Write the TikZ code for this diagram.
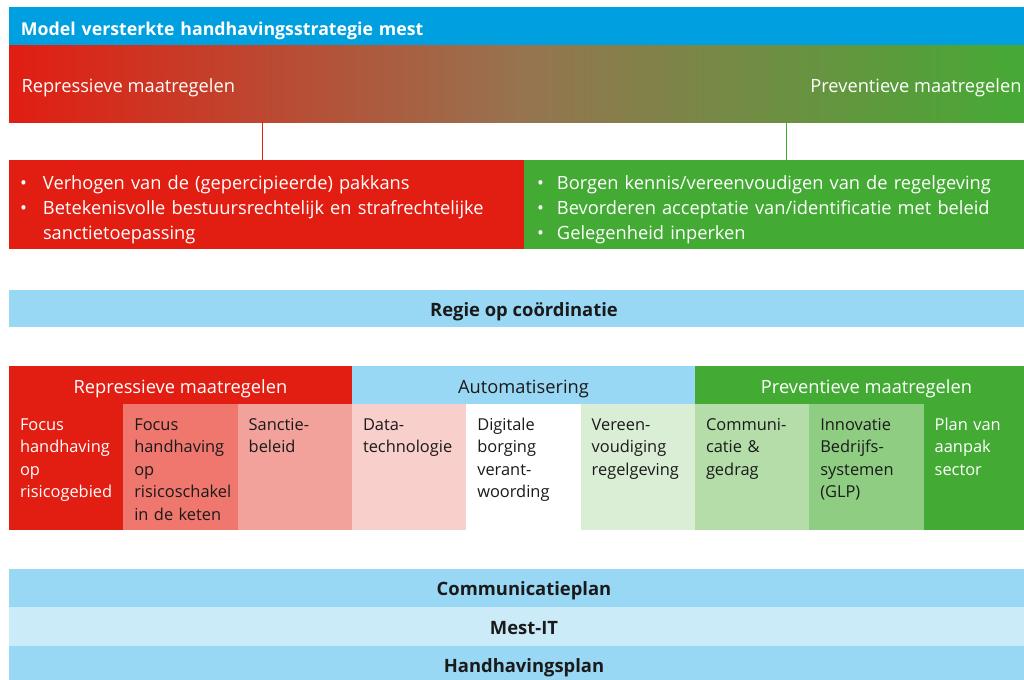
\documentclass[tikz,border=0pt]{standalone}
\usepackage{fontspec}
\setmainfont{Open Sans}
\usetikzlibrary{positioning}

\definecolor{titleblue}{RGB}{0,160,224}
\definecolor{repred}{RGB}{226,29,18}
\definecolor{prevgreen}{RGB}{67,171,52}
\definecolor{midbrown}{RGB}{150,116,80}
\definecolor{regieblue}{RGB}{153,216,244}
\definecolor{paleblue}{RGB}{204,235,249}
\definecolor{redA}{RGB}{240,119,110}
\definecolor{redB}{RGB}{243,161,155}
\definecolor{redC}{RGB}{249,207,204}
\definecolor{greenA}{RGB}{218,237,213}
\definecolor{greenB}{RGB}{180,221,170}
\definecolor{greenC}{RGB}{143,206,130}
\definecolor{inkgrey}{RGB}{26,26,26}

\tikzset{every picture/.style={line width=0.75pt}}
\tikzset{
  block/.style={anchor=north west, inner sep=0pt, outer sep=0pt},
  band/.style={block, minimum width=772.5pt, text=inkgrey, font=\fontsize{13.8}{16}\selectfont\bfseries, text height=12pt, text depth=0.5pt},
  head/.style={block, minimum width=257.25pt, minimum height=28.5pt, font=\fontsize{13.7}{16}\selectfont, text height=12.5pt, text depth=0pt},
  cell/.style={block, minimum width=85.75pt, minimum height=94.5pt},
  celltext/.style={block, text width=80pt, align=left, text=inkgrey, font=\fontsize{12.3}{16.875}\selectfont},
  bullets/.style={block, text width=370pt, align=left, text=white, font=\fontsize{13.7}{18.75}\selectfont},
  gradlabel/.style={inner sep=0pt, text=white, font=\fontsize{13.7}{16}\selectfont},
}

\begin{document}
\begin{tikzpicture}[x=0.75pt,y=0.75pt,yscale=-1,xscale=1]
\useasboundingbox (0,0) rectangle (1024,679);
\clip (0,0) rectangle (1024,679);

%Title bar
\node (title) [block, fill=titleblue, text=white, minimum height=28.5pt, text width=753.75pt, inner xsep=9pt, align=left, font=\fontsize{13.3}{16}\selectfont\bfseries, text height=13.5pt, text depth=0pt] at (9,7) {Model versterkte handhavingsstrategie mest};

%Gradient bar
\node (gradbar) [block, minimum width=771.75pt, minimum height=57.75pt, left color=repred, right color=prevgreen, middle color=midbrown] at (9,45) {};
% Text Node
\node (repgrad) [gradlabel, anchor=base west] at (21,92) {Repressieve maatregelen};
% Text Node
\node (prevgrad) [gradlabel, anchor=base east] at (1022,92) {Preventieve maatregelen};

%Goal boxes
\node (repbox) [block, minimum width=386.25pt, minimum height=66.75pt, fill=repred] at (9,160) {};
\node (prevbox) [block, right=0pt of repbox, anchor=west, minimum width=385.5pt, minimum height=66.75pt, fill=prevgreen] {};
\coordinate (repdrop) at (262,140);
\coordinate (prevdrop) at (786,140);
\draw [repred] (gradbar.south -| repdrop) -- (repbox.north -| repdrop);
\draw [prevgreen] (gradbar.south -| prevdrop) -- (prevbox.north -| prevdrop);
% Text Node
\node (replist) [bullets] at (20,171.5) {\strut\makebox[17.25pt][l]{•}Verhogen van de (gepercipieerde) pakkans\\
  \makebox[17.25pt][l]{•}Betekenisvolle bestuursrechtelijk en strafrechtelijke\\
  \hspace*{17.25pt}sanctietoepassing};
% Text Node
\node (prevlist) [bullets] at (537,171.5) {\strut\makebox[15pt][l]{•}Borgen kennis/vereenvoudigen van de regelgeving\\
  \makebox[15pt][l]{•}Bevorderen acceptatie van/identificatie met beleid\\
  \makebox[15pt][l]{•}Gelegenheid inperken};

%Regie bar
\node (regie) [band, fill=regieblue, minimum height=27.75pt] at (9,290) {Regie op coördinatie};

%Header row
\node (rephead) [head, fill=repred, text=white] at (9,366) {Repressieve maatregelen};
\node (autohead) [head, right=0pt of rephead, anchor=west, fill=regieblue, text=inkgrey] {Automatisering};
\node (prevhead) [head, right=0pt of autohead, anchor=west, fill=prevgreen, text=white] {Preventieve maatregelen};

%Cells
\node (c1) [cell, fill=repred] at (9,404) {};
\node (c2) [cell, right=0pt of c1, anchor=west, fill=redA] {};
\node (c3) [cell, right=0pt of c2, anchor=west, fill=redB] {};
\node (c4) [cell, right=0pt of c3, anchor=west, fill=redC] {};
\node (c5) [cell, right=0pt of c4, anchor=west, fill=white] {};
\node (c6) [cell, right=0pt of c5, anchor=west, fill=greenA] {};
\node (c7) [cell, right=0pt of c6, anchor=west, fill=greenB] {};
\node (c8) [cell, right=0pt of c7, anchor=west, fill=greenC] {};
\node (c9) [cell, right=0pt of c8, anchor=west, fill=prevgreen] {};

% Text Node
\node (t1) [celltext, text=white] at (20,414.25) {\strut Focus\\handhaving\\op\\risicogebied};
% Text Node
\node (t2) [celltext] at (134.3,414.25) {\strut Focus\\handhaving\\op\\risicoschakel\\in de keten};
% Text Node
\node (t3) [celltext] at (248.7,414.25) {\strut Sanctie-\\beleid};
% Text Node
\node (t4) [celltext] at (363,414.25) {\strut Data-\\technologie};
% Text Node
\node (t5) [celltext] at (477.3,414.25) {\strut Digitale\\borging\\verant-\\woording};
% Text Node
\node (t6) [celltext] at (591.7,414.25) {\strut Vereen-\\voudiging\\regelgeving};
% Text Node
\node (t7) [celltext] at (706,414.25) {\strut Communi-\\catie \&\\gedrag};
% Text Node
\node (t8) [celltext] at (820.3,414.25) {\strut Innovatie\\Bedrijfs-\\systemen\\(GLP)};
% Text Node
\node (t9) [celltext, text=white] at (934.7,414.25) {\strut Plan van\\aanpak\\sector};

%Bottom bars
\node (commplan) [band, fill=regieblue, minimum height=28.5pt] at (9,569) {Communicatieplan};
\node (mestit) [band, below=0pt of commplan, fill=paleblue, minimum height=29.25pt] {Mest-IT};
\node (handplan) [band, below=0pt of mestit, fill=regieblue, minimum height=28.5pt] {Handhavingsplan};
\end{tikzpicture}
\end{document}
